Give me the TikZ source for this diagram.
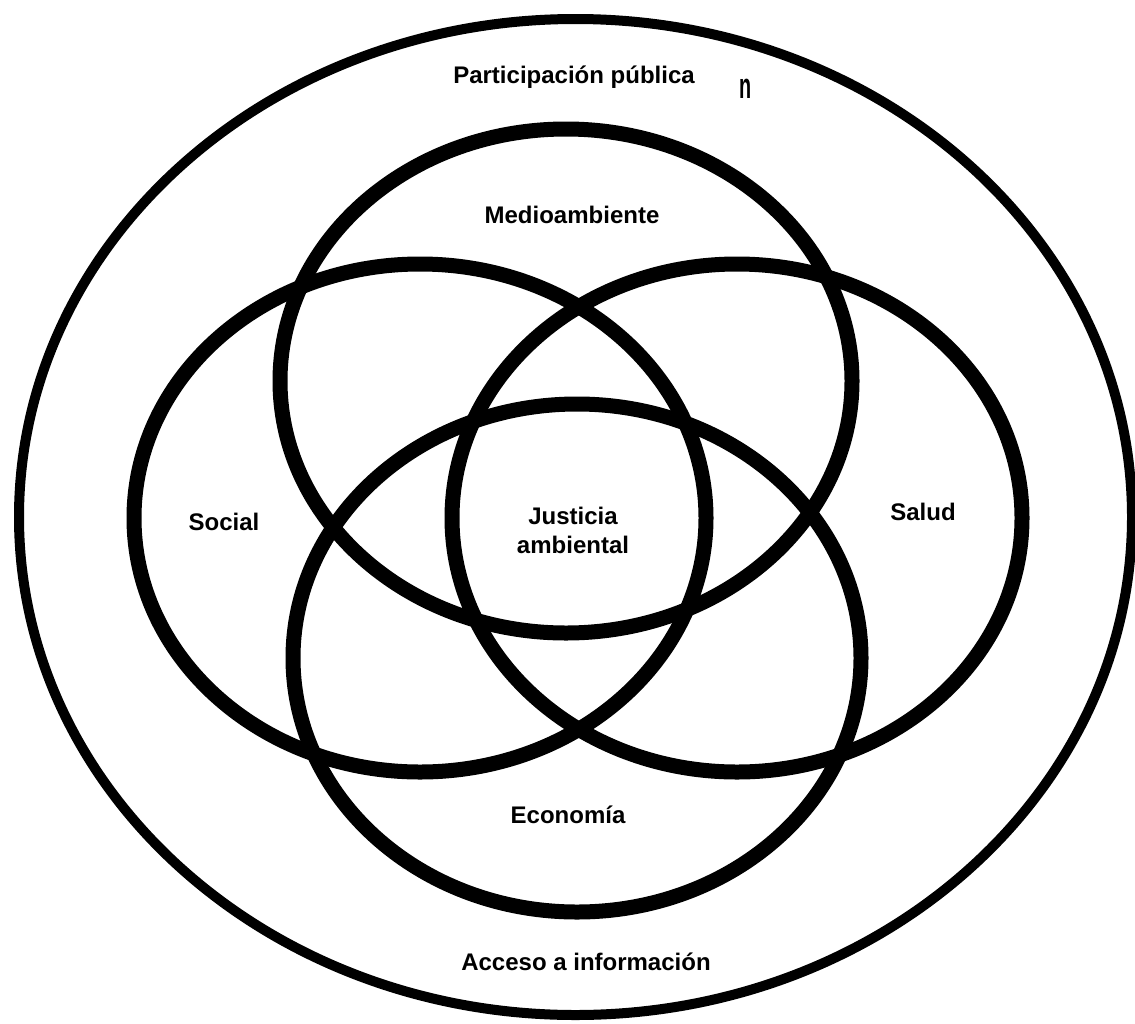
\documentclass[tikz,border=0pt]{standalone}
\usepackage{fontspec}
\setmainfont{Liberation Sans}
\begin{document}
\begin{tikzpicture}[x=1pt,y=-1pt,
  ring/.style={draw=black,line width=15pt},
  outerring/.style={draw=black,line width=10pt},
  lbl/.style={font=\fontsize{24}{29}\selectfont\bfseries,align=center,inner sep=0pt}]
\useasboundingbox (0,0) rectangle (1135,1023);
\fill[white] (0,0) rectangle (1135,1023);
% outer ellipse
\draw[outerring] (575.5,517) ellipse [x radius=556.5, y radius=498];
% four inner ellipses
\draw[ring] (566,381) ellipse [x radius=286, y radius=252];
\draw[ring] (420,518) ellipse [x radius=286, y radius=254];
\draw[ring] (737,518) ellipse [x radius=285, y radius=254];
\draw[ring] (577,658) ellipse [x radius=284, y radius=254];
% labels
\node[lbl] (part) at (574,77) {Participación pública};
\node[inner sep=0pt,font=\fontsize{36}{36}\selectfont\bfseries] (frag) at (746,89) {\scalebox{0.55}[1]{n}};
\node[lbl] (medio) at (572,215) {Medioambiente};
\node[lbl] (social) at (224,522) {Social};
\node[lbl] (just) at (573,530) {Justicia\\ambiental};
\node[lbl] (salud) at (923,512) {Salud};
\node[lbl] (eco) at (568,815) {Economía};
\node[lbl] (acc) at (586,962) {Acceso a información};
\end{tikzpicture}
\end{document}
